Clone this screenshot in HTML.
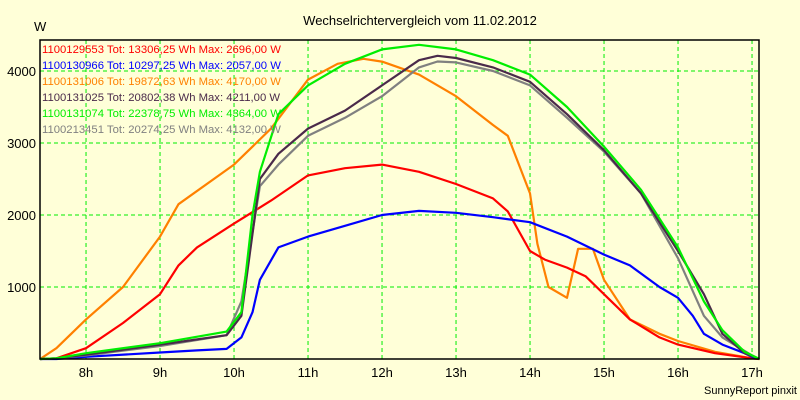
<!DOCTYPE html>
<html><head><meta charset="utf-8"><style>
body{margin:0;background:#ffffd8;}
svg{display:block;font-family:"Liberation Sans",sans-serif;}
</style></head><body>
<svg id="chart" width="800" height="400">
<rect x="0" y="0" width="800" height="400" fill="#ffffd8"/>
<text x="420" y="25" text-anchor="middle" font-size="13" fill="#000">Wechselrichtervergleich vom 11.02.2012</text>
<text x="34" y="31" font-size="13" fill="#000">W</text>
<text x="797" y="394" text-anchor="end" font-size="11" fill="#000">SunnyReport pinxit</text>
<g id="grid"></g><g id="series"></g><g id="axes"></g><g id="legend"></g>
</svg>
<script>
const xTicks=[8,9,10,11,12,13,14,15,16,17];
const xTickLabels=["8h","9h","10h","11h","12h","13h","14h","15h","16h","17h"];
const yTicks=[1000,2000,3000,4000];
const yTickLabels=["1000","2000","3000","4000"];
const seriesNames=["1100129553 Tot: 13306,25 Wh Max: 2696,00 W","1100130966 Tot: 10297,25 Wh Max: 2057,00 W","1100131006 Tot: 19872,63 Wh Max: 4170,00 W","1100131025 Tot: 20802,38 Wh Max: 4211,00 W","1100131074 Tot: 22378,75 Wh Max: 4364,00 W","1100213451 Tot: 20274,25 Wh Max: 4132,00 W"];
const seriesColors=["#ff0000","#0000ff","#ff8000","#4a2a4a","#00ee00","#808080"];
const redT=[7.38,7.6,8,8.5,9,9.25,9.5,10,10.5,11,11.5,12,12.5,13,13.5,13.7,14,14.2,14.5,14.75,15,15.35,15.75,16,16.5,17,17.1];
const redV=[0,10,150,500,900,1300,1550,1880,2200,2550,2650,2700,2600,2430,2230,2050,1500,1380,1270,1150,900,550,300,200,80,10,0];
const blueT=[7.38,7.6,8,9,9.5,9.9,10.1,10.25,10.35,10.6,11,11.5,12,12.5,13,13.5,14,14.5,15,15.35,15.75,16,16.2,16.35,16.6,16.9,17,17.1];
const blueV=[0,0,30,90,120,140,300,650,1100,1550,1700,1850,2000,2057,2030,1970,1900,1700,1450,1300,1000,850,600,350,200,80,30,0];
const orangeT=[7.38,7.6,8,8.5,9,9.25,10,10.5,11,11.4,11.75,12,12.5,13,13.5,13.7,14,14.1,14.25,14.5,14.65,14.85,15,15.35,15.75,16,16.5,17,17.1];
const orangeV=[0,150,550,1000,1700,2150,2700,3200,3880,4100,4170,4130,3950,3650,3250,3100,2300,1600,1000,850,1530,1530,1100,550,350,250,100,10,0];
const darkT=[7.38,7.6,8,9,9.9,10.1,10.35,10.6,11,11.5,12,12.5,12.75,13,13.5,14,14.5,15,15.5,16,16.35,16.6,16.9,17.1];
const darkV=[0,10,60,200,330,600,2500,2850,3200,3450,3800,4150,4211,4180,4050,3850,3400,2900,2300,1500,900,350,80,0];
const greenT=[7.38,7.6,8,9,9.9,10.1,10.25,10.35,10.6,11,11.5,12,12.5,13,13.5,14,14.5,15,15.5,16,16.35,16.6,16.9,17.1];
const greenV=[0,10,80,220,380,650,2000,2600,3400,3800,4100,4300,4364,4300,4150,3950,3500,2950,2350,1550,800,400,100,0];
const grayT=[7.38,7.6,8,9,9.9,10.1,10.35,10.6,11,11.5,12,12.5,12.75,13,13.5,14,14.5,15,15.5,16,16.35,16.6,17,17.1];
const grayV=[0,10,50,180,330,800,2400,2700,3100,3350,3650,4050,4132,4120,4000,3800,3350,2880,2300,1400,600,300,50,0];
const L=40,R=759,T=40,B=359;
const xs=h=>L+(h-7.378)*74;
const ys=v=>B-v*0.072;
const NS="http://www.w3.org/2000/svg";
function mk(tag,attrs,parent){const e=document.createElementNS(NS,tag);for(const k in attrs)e.setAttribute(k,attrs[k]);parent.appendChild(e);return e;}
const grid=document.getElementById('grid'),axes=document.getElementById('axes'),ser=document.getElementById('series'),leg=document.getElementById('legend');
xTicks.forEach((h,i)=>{
  const g=mk('line',{x1:xs(h),x2:xs(h),y1:T,y2:B,stroke:'#00ee00','stroke-dasharray':'4,3','stroke-width':1},grid);
  
  
  const t=mk('text',{x:xs(h),y:377,'text-anchor':'middle','font-size':13,fill:'#000'},axes);
  t.textContent=xTickLabels[i];
  
  
});
yTicks.forEach((v,i)=>{
  const g=mk('line',{x1:L,x2:R,y1:ys(v),y2:ys(v),stroke:'#00ee00','stroke-dasharray':'4,3','stroke-width':1},grid);
  
  
  const t=mk('text',{x:36,y:ys(v)+5,'text-anchor':'end','font-size':13,fill:'#000'},axes);
  t.textContent=yTickLabels[i];
  
  
});
const frame=mk('path',{d:`M${L},${T}H${R}V${B}H${L}Z`,fill:'none',stroke:'#000','stroke-width':1.5},axes);


const allT=[redT,blueT,orangeT,darkT,greenT,grayT],allV=[redV,blueV,orangeV,darkV,greenV,grayV];
const order=[2,0,1,5,3,4];
order.forEach(i=>{
  const d=allT[i].map((t,j)=>(j?'L':'M')+xs(t).toFixed(1)+','+ys(allV[i][j]).toFixed(1)).join('');
  const p=mk('path',{d:d,fill:'none',stroke:seriesColors[i],'stroke-width':2.2,'stroke-linejoin':'round'},ser);
  
  
});
const legY=[53,69,85,101,117,133];
seriesNames.forEach((n,i)=>{
  const t=mk('text',{x:42,y:legY[i],'font-size':11.3,fill:seriesColors[i]},leg);
  t.textContent=n;
  
  
});
</script>
</body></html>
